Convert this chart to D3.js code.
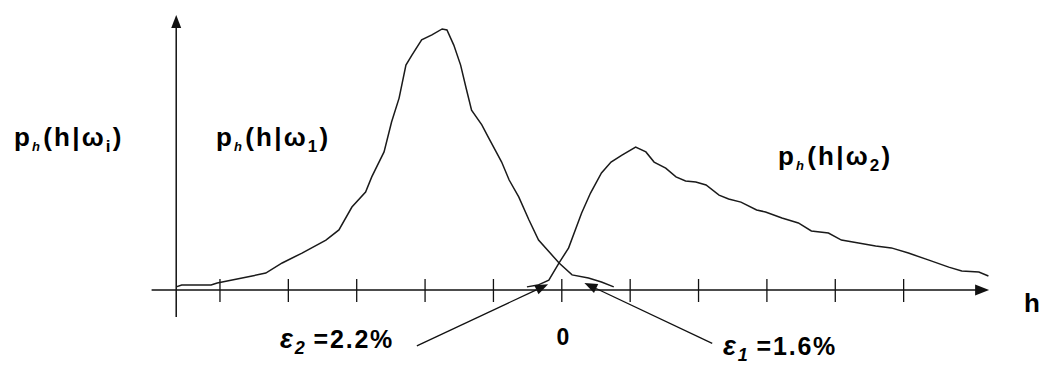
<!DOCTYPE html>
<html>
<head>
<meta charset="utf-8">
<script src="https://cdn.jsdelivr.net/npm/d3@7"></script>
<style>
  html, body { margin: 0; padding: 0; background: #fff; }
  svg text { font-family: "Liberation Sans", Arial, sans-serif; font-weight: bold; fill: #000; }
</style>
</head>
<body>
<svg id="chart" width="1045" height="366"></svg>
<script>
// Decision variable h and the two class-conditional densities p_h(h|ω1), p_h(h|ω2)
const hTicks = [-5, -4, -3, -2, -1, 0, 1, 2, 3, 4, 5];
const tickLabels = [{ h: 0, text: "0" }];

const omega1H = [-5.64, -5.56, -5.13, -5.04, -4.53, -4.33, -4.09, -3.80, -3.45, -3.26, -3.07, -2.87, -2.78,
  -2.60, -2.49, -2.38, -2.28, -2.19, -2.05, -1.90, -1.75, -1.68, -1.58, -1.48, -1.40, -1.32, -1.17, -1.07,
  -0.96, -0.88, -0.77, -0.63, -0.48, -0.34, -0.04, 0.15, 0.39, 0.58, 0.76];
const omega1P = [0.012, 0.019, 0.019, 0.027, 0.054, 0.065, 0.104, 0.142, 0.192, 0.231, 0.319, 0.377, 0.435,
  0.531, 0.646, 0.738, 0.865, 0.904, 0.962, 0.981, 1.004, 1.000, 0.942, 0.865, 0.777, 0.692, 0.635, 0.585,
  0.531, 0.492, 0.423, 0.358, 0.269, 0.192, 0.104, 0.058, 0.046, 0.031, 0.012];

const omega2H = [-0.51, -0.35, -0.19, -0.04, 0.10, 0.29, 0.42, 0.58, 0.72, 0.88, 1.08, 1.23, 1.35, 1.52, 1.67,
  1.81, 1.96, 2.11, 2.30, 2.44, 2.62, 2.85, 2.98, 3.22, 3.46, 3.65, 3.90, 4.09, 4.34, 4.59, 4.82, 5.07,
  5.37, 5.66, 5.85, 6.10, 6.24];
const omega2P = [0.012, 0.019, 0.038, 0.104, 0.162, 0.296, 0.373, 0.450, 0.492, 0.519, 0.550, 0.531, 0.492,
  0.469, 0.435, 0.419, 0.415, 0.404, 0.365, 0.350, 0.338, 0.308, 0.300, 0.277, 0.258, 0.227, 0.219, 0.192,
  0.181, 0.169, 0.162, 0.142, 0.115, 0.088, 0.073, 0.069, 0.054];

// Error annotations: text, label anchor, and the point on the h axis they refer to
const errorNotes = [
  { sym: "ε", sub: "2", text: "=2.2%", lx: 280, ly: 348, fromH: -2.12, fromP: -0.215, toH: -0.20, toP: 0.022 },
  { sym: "ε", sub: "1", text: "=1.6%", lx: 723, ly: 355, fromH: 2.20, fromP: -0.205, toH: 0.33, toP: 0.027 }
];

const svg = d3.select("#chart");
const x = d3.scaleLinear().domain([-6, 6.25]).range([151.6, 989.1]);
const y = d3.scaleLinear().domain([0, 1]).range([290, 30]);

const hAxisStart = -6, hAxisEnd = 6.25, yAxisH = -5.64;
const pAxisBottom = -0.104, pAxisTop = 1.058;

const ink = "#111";

// horizontal axis with arrow
svg.append("line")
  .attr("x1", x(hAxisStart)).attr("x2", x(hAxisEnd) - 6)
  .attr("y1", y(0)).attr("y2", y(0))
  .attr("stroke", ink).attr("stroke-width", 1.5);
svg.append("path")
  .attr("d", `M${x(hAxisEnd)},${y(0)} L${x(hAxisEnd) - 14},${y(0) - 5.5} L${x(hAxisEnd) - 14},${y(0) + 5.5} Z`)
  .attr("fill", ink);

// tick marks crossing the axis
svg.selectAll("line.tick").data(hTicks).join("line")
  .attr("class", "tick")
  .attr("x1", d => x(d)).attr("x2", d => x(d))
  .attr("y1", y(0) - 11).attr("y2", y(0) + 12)
  .attr("stroke", ink).attr("stroke-width", 1.3);

// vertical axis with arrow
svg.append("line")
  .attr("x1", x(yAxisH)).attr("x2", x(yAxisH))
  .attr("y1", y(pAxisBottom)).attr("y2", y(pAxisTop) + 6)
  .attr("stroke", ink).attr("stroke-width", 1.5);
svg.append("path")
  .attr("d", `M${x(yAxisH)},${y(pAxisTop)} L${x(yAxisH) - 5},${y(pAxisTop) + 13} L${x(yAxisH) + 5},${y(pAxisTop) + 13} Z`)
  .attr("fill", ink);

// density curves
const line = d3.line().x(d => x(d[0])).y(d => y(d[1]));
svg.append("path")
  .datum(d3.zip(omega1H, omega1P))
  .attr("d", line)
  .attr("fill", "none").attr("stroke", "#1a1a1a").attr("stroke-width", 1.5);
svg.append("path")
  .datum(d3.zip(omega2H, omega2P))
  .attr("d", line)
  .attr("fill", "none").attr("stroke", "#1a1a1a").attr("stroke-width", 1.5);

// tick label
svg.selectAll("text.tl").data(tickLabels).join("text")
  .attr("class", "tl")
  .attr("x", d => x(d.h) + 1).attr("y", 345)
  .attr("text-anchor", "middle")
  .attr("font-size", 23)
  .text(d => d.text);

// axis name
svg.append("text").attr("x", 1024).attr("y", 312).attr("font-size", 26).text("h");

// density labels p_h(h|ω)
function densityLabel(px, py, sub) {
  const t = svg.append("text").attr("x", px).attr("y", py)
    .attr("font-size", 26).attr("letter-spacing", 2.2);
  t.append("tspan").text("p");
  t.append("tspan").attr("font-size", 13).attr("font-style", "italic").attr("dy", 5).text("h");
  t.append("tspan").attr("dy", -5).attr("dx", 1).text("(h|ω");
  t.append("tspan").attr("font-size", 17).attr("dy", 6).text(sub);
  t.append("tspan").attr("dy", -6).text(")");
}
densityLabel(14, 146, "i");
densityLabel(216, 146, "1");
densityLabel(778, 165, "2");

// error annotations with arrows
errorNotes.forEach(n => {
  const t = svg.append("text").attr("x", n.lx).attr("y", n.ly)
    .attr("font-size", 25).attr("letter-spacing", 1.8);
  t.append("tspan").attr("font-style", "italic").attr("font-size", 27).text(n.sym);
  t.append("tspan").attr("font-size", 18).attr("font-style", "italic").attr("dy", 6).text(n.sub);
  t.append("tspan").attr("dy", -6).attr("dx", 7).text(n.text);

  const x0 = x(n.fromH), y0 = y(n.fromP), x1 = x(n.toH), y1 = y(n.toP);
  const ang = Math.atan2(y1 - y0, x1 - x0);
  const len = 13, hw = 5;
  const bx = x1 - len * Math.cos(ang), by = y1 - len * Math.sin(ang);
  svg.append("line")
    .attr("x1", x0).attr("y1", y0).attr("x2", bx).attr("y2", by)
    .attr("stroke", ink).attr("stroke-width", 1.3);
  svg.append("path")
    .attr("d", `M${x1},${y1} L${bx - hw * Math.sin(ang)},${by + hw * Math.cos(ang)} L${bx + hw * Math.sin(ang)},${by - hw * Math.cos(ang)} Z`)
    .attr("fill", ink);
});
</script>
</body>
</html>
